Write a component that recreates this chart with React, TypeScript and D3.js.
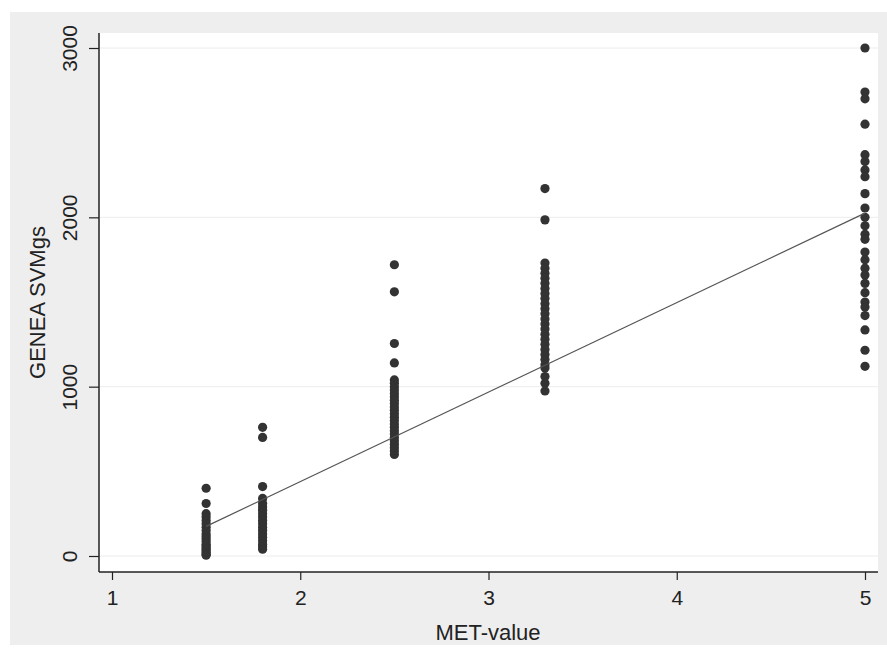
import React, { useEffect, useRef } from 'react';
import * as d3 from 'd3';

const met15 = [400, 310, 250, 230, 210, 190, 170, 150, 130, 115, 100, 85, 70, 60, 50, 40, 30, 20, 10, 5];
const met18 = [760, 700, 410, 340, 310, 290, 270, 250, 230, 210, 190, 170, 150, 130, 110, 90, 70, 55, 40];
const met25 = [1720, 1560, 1255, 1140, 1040, 1020, 1000, 980, 960, 940, 920, 900, 880, 860, 840, 820, 800, 780, 760, 740, 720, 700, 680, 660, 640, 620, 600];
const met33 = [2170, 1985, 1730, 1700, 1670, 1640, 1610, 1580, 1550, 1520, 1490, 1460, 1430, 1400, 1370, 1340, 1310, 1280, 1250, 1220, 1190, 1160, 1130, 1110, 1060, 1020, 975];
const met50 = [3000, 2740, 2700, 2550, 2370, 2330, 2280, 2240, 2140, 2055, 2000, 1950, 1900, 1870, 1795, 1750, 1700, 1660, 1610, 1555, 1500, 1470, 1420, 1335, 1215, 1120];

const groups: [number, number[]][] = [
    [1.5, met15],
    [1.8, met18],
    [2.5, met25],
    [3.3, met33],
    [5, met50],
];

// fitted line end points
const fitX = [1.5, 5];
const fitY = [175, 2025];

const xTicks = [1, 2, 3, 4, 5];
const yTicks = [0, 1000, 2000, 3000];

const App = () => {
    const chartRef = useRef<SVGSVGElement>(null);

    useEffect(() => {
        const svg = d3.select(chartRef.current);
        svg.selectAll("*").remove();

        const left = 99, right = 878, top = 33, bottom = 572;
        const font = "'Liberation Sans', Arial, sans-serif";

        // outer graph region
        svg.append("rect")
            .attr("x", 10).attr("y", 12)
            .attr("width", 877).attr("height", 633)
            .attr("fill", "#eeeeee");

        // plot region
        svg.append("rect")
            .attr("x", left).attr("y", top)
            .attr("width", right - left).attr("height", bottom - top)
            .attr("fill", "#ffffff");

        const x = d3.scaleLinear().domain([1, 5]).range([112, 865]);
        const y = d3.scaleLinear().domain([0, 3000]).range([556, 48]);

        // grid lines
        svg.selectAll(".grid")
            .data(yTicks)
            .enter().append("line")
            .attr("x1", left + 1).attr("x2", right)
            .attr("y1", d => y(d)).attr("y2", d => y(d))
            .attr("stroke", "#ececec")
            .attr("stroke-width", 1);

        // Y Axis
        const yAxis = svg.append("g")
            .attr("transform", `translate(${left},0)`)
            .call(d3.axisLeft(y).tickValues(yTicks).tickSize(10).tickFormat(d3.format("d")));
        yAxis.select(".domain").attr("d", `M0,${top}V${bottom}`).attr("stroke", "#222").attr("stroke-width", 1.5);
        yAxis.selectAll(".tick line").attr("stroke", "#222").attr("stroke-width", 1.2);
        yAxis.selectAll(".tick text")
            .attr("font-family", font).attr("font-size", 21).attr("fill", "#222")
            .attr("transform", "rotate(-90)")
            .attr("x", 0).attr("y", -29)
            .attr("dy", "0.35em")
            .style("text-anchor", "middle");

        // X Axis
        const xAxis = svg.append("g")
            .attr("transform", `translate(0,${bottom})`)
            .call(d3.axisBottom(x).tickValues(xTicks).tickSize(8).tickFormat(d3.format("d")));
        xAxis.select(".domain").attr("d", `M${left},0H${right}`).attr("stroke", "#222").attr("stroke-width", 1.5);
        xAxis.selectAll(".tick line").attr("stroke", "#222").attr("stroke-width", 1.2);
        xAxis.selectAll(".tick text")
            .attr("font-family", font).attr("font-size", 21).attr("fill", "#222")
            .attr("y", 26).attr("dy", "0.35em");

        // titles
        svg.append("text")
            .attr("x", 488).attr("y", 640)
            .attr("text-anchor", "middle")
            .attr("font-family", font).attr("font-size", 22).attr("fill", "#222")
            .text("MET-value");
        svg.append("text")
            .attr("transform", `translate(45,${(top + bottom) / 2}) rotate(-90)`)
            .attr("text-anchor", "middle")
            .attr("font-family", font).attr("font-size", 22).attr("fill", "#222")
            .text("GENEA SVMgs");

        // Points
        const points = groups.flatMap(([m, vals]) => vals.map(v => ({ m, v })));
        svg.selectAll(".pt")
            .data(points)
            .enter().append("circle")
            .attr("class", "pt")
            .attr("cx", d => x(d.m))
            .attr("cy", d => y(d.v))
            .attr("r", 4.6)
            .attr("fill", "#333333");

        // Fitted line
        const line = d3.line<number>()
            .x((d, i) => x(fitX[i]))
            .y(d => y(d));
        svg.append("path")
            .attr("d", line(fitY))
            .attr("fill", "none")
            .attr("stroke", "#555")
            .attr("stroke-width", 1.2);
    }, []);

    return (
        <svg ref={chartRef} width={887} height={650}
            style={{ position: 'absolute', left: 0, top: 0 }}></svg>
    );
};

export default App;
